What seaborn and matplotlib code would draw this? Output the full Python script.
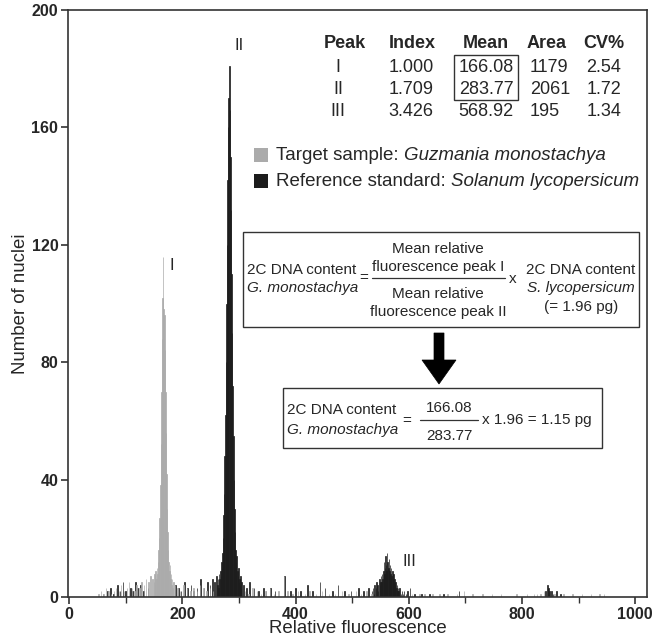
import numpy as np
import pandas as pd
import matplotlib
matplotlib.use("Agg")
import matplotlib.pyplot as plt
from matplotlib.patches import Rectangle, Polygon
from matplotlib.ticker import MultipleLocator
import seaborn as sns

# ---------------- data ----------------
# Peak I (target sample, gray): counts per channel starting at channel 150
peak1_start = 150
peak1_counts = [5, 8, 4, 9, 6, 10, 8, 12, 16, 20, 27, 38, 52, 70, 88, 102, 116, 98,
                96, 84, 70, 56, 42, 30, 22, 16, 12, 9, 11, 6, 8, 4, 6, 3, 5]
# Peak II (reference standard, black): counts per channel starting at channel 262
peak2_start = 262
peak2_counts = [4, 6, 3, 8, 6, 9, 7, 12, 10, 15, 20, 28, 35, 48, 62, 80, 100, 120,
                142, 160, 170, 181, 166, 150, 132, 110, 90, 72, 55, 40, 30, 22, 16,
                12, 14, 9, 7, 10, 5, 6, 4, 7, 3, 5]
# Peak III (reference G2, black): (channel, count)
peak3 = [(535, 2), (537, 3), (539, 1), (540, 4), (542, 3), (543, 5), (545, 4), (546, 2),
         (548, 6), (549, 4), (550, 5), (551, 7), (552, 5), (553, 8), (554, 6), (555, 9),
         (556, 12), (557, 8), (558, 10), (559, 14), (560, 11), (561, 9), (562, 15),
         (563, 12), (564, 10), (565, 13), (566, 9), (567, 11), (568, 8), (569, 10),
         (570, 7), (571, 9), (572, 6), (573, 8), (574, 5), (575, 6), (576, 4), (577, 5),
         (578, 3), (579, 4), (580, 2), (581, 3), (582, 2), (584, 3), (586, 1), (588, 2),
         (590, 1), (592, 2), (595, 1)]
# background debris (channel, count)
gray_noise = [(52, 1), (56, 2), (61, 1), (65, 3), (70, 2), (74, 1), (79, 2), (83, 3),
              (88, 2), (92, 4), (97, 2), (102, 3), (106, 5), (111, 3), (115, 2), (119, 4),
              (124, 3), (128, 5), (132, 4), (136, 6), (140, 5), (144, 7), (147, 6),
              (187, 4), (191, 3), (196, 2), (202, 4), (208, 3), (214, 2), (220, 3),
              (226, 2), (231, 4), (237, 3), (243, 2), (249, 3), (254, 2), (311, 2),
              (317, 1), (324, 3), (332, 2), (339, 1), (347, 2), (355, 3), (362, 1),
              (370, 2), (380, 7), (386, 2), (395, 1), (404, 2), (417, 1), (425, 2),
              (436, 1), (447, 2), (459, 1), (470, 1), (482, 2), (494, 1), (507, 2),
              (516, 1), (525, 2), (534, 1), (606, 1), (619, 1), (628, 1), (642, 1),
              (654, 1), (669, 1), (685, 1), (698, 2), (713, 1), (730, 1), (747, 1),
              (763, 1), (790, 1), (809, 1), (821, 1), (827, 1), (833, 1), (839, 2),
              (858, 1), (873, 1), (889, 1), (906, 1), (922, 1), (937, 1), (945, 1)]
black_noise = [(60, 1), (68, 2), (73, 3), (78, 1), (85, 4), (90, 2), (95, 5), (100, 2),
               (108, 3), (112, 2), (117, 5), (121, 3), (126, 4), (131, 2), (139, 3),
               (188, 4), (193, 3), (198, 2), (204, 5), (209, 3), (215, 4), (220, 2),
               (226, 3), (232, 6), (238, 3), (244, 5), (249, 4), (253, 6), (257, 5),
               (260, 7), (308, 4), (313, 3), (319, 5), (327, 3), (335, 2), (343, 3),
               (348, 2), (356, 3), (364, 2), (381, 7), (391, 2), (400, 3), (409, 2),
               (421, 4), (430, 2), (443, 5), (452, 3), (465, 2), (475, 4), (487, 2),
               (498, 2), (511, 3), (520, 2), (529, 3), (598, 2), (602, 3), (610, 1),
               (623, 1), (637, 1), (661, 1), (689, 2), (842, 2), (845, 4), (847, 3),
               (849, 2), (852, 2), (855, 1), (861, 2), (868, 1)]

table_header = ["Peak", "Index", "Mean", "Area", "CV%"]
table_peak = ["I", "II", "III"]
table_index = ["1.000", "1.709", "3.426"]
table_mean = ["166.08", "283.77", "568.92"]
table_area = ["1179", "2061", "195"]
table_cv = ["2.54", "1.72", "1.34"]

GRAY = "#ababab"
BLACK = "#1c1c1c"

# ---------------- build frame ----------------
rows = []
for i, c in enumerate(peak1_counts):
    rows.append((peak1_start + i, c, "target"))
for ch, c in gray_noise:
    rows.append((ch, c, "target"))
for i, c in enumerate(peak2_counts):
    rows.append((peak2_start + i, c, "reference"))
for ch, c in peak3 + black_noise:
    rows.append((ch, c, "reference"))
df = pd.DataFrame(rows, columns=["channel", "count", "sample"])

sns.set_style("ticks")
plt.rcParams["font.family"] = ["Liberation Sans", "DejaVu Sans"]

W, H = 656, 640
fig = plt.figure(figsize=(W / 100, H / 100), dpi=100)
ax = fig.add_axes([68 / W, 1 - 597 / H, (647 - 68) / W, (597 - 10) / H])


def P(x, y):
    return (x / W, 1 - y / H)


for name, col in [("reference", BLACK), ("target", GRAY)]:
    sub = df[df["sample"] == name]
    sns.histplot(data=sub, x="channel", weights="count", discrete=True,
                 color=col, alpha=1, edgecolor=col, linewidth=0.5, ax=ax)

ax.set_xlim(-2, 1021)
ax.set_ylim(0, 200)
ax.xaxis.set_major_locator(MultipleLocator(200))
ax.xaxis.set_minor_locator(MultipleLocator(100))
ax.yaxis.set_major_locator(MultipleLocator(40))
ax.tick_params(axis="both", which="major", direction="out", length=5, width=1.2,
               color="#333333", labelsize=11.5, pad=2)
ax.tick_params(axis="x", which="minor", direction="out", length=4, width=1.0, color="#333333")
for lab in ax.get_xticklabels() + ax.get_yticklabels():
    lab.set_fontweight("bold")
for s in ax.spines.values():
    s.set_visible(True)
    s.set_linewidth(1.2)
    s.set_color("#333333")
ax.set_xlabel("Relative fluorescence", fontsize=13.4, labelpad=-1)
ax.set_ylabel("Number of nuclei", fontsize=13.4, labelpad=2)

FS = 13
# peak labels
fig.text(*P(172, 266), "I", fontsize=12, ha="center", va="center")
fig.text(*P(239, 46), "II", fontsize=12, ha="center", va="center")
fig.text(*P(409, 562), "III", fontsize=12, ha="center", va="center")

# table
cols_x = [345, 412, 486, 547, 604]
for x, h in zip(cols_x, table_header):
    fig.text(*P(x, 44), h, fontsize=FS, fontweight="bold", ha="center", va="center")
row_y = [67, 89, 111]
for i, y in enumerate(row_y):
    fig.text(*P(338, y), table_peak[i], fontsize=FS, ha="center", va="center")
    fig.text(*P(411, y), table_index[i], fontsize=FS, ha="center", va="center")
    fig.text(*P(486, y), table_mean[i], fontsize=FS, ha="center", va="center")
    fig.text(*P(530, y), table_area[i], fontsize=FS, ha="left", va="center")
    fig.text(*P(604, y), table_cv[i], fontsize=FS, ha="center", va="center")


def box(x0, y0, x1, y1, lw=1.0):
    fx0, fy1 = P(x0, y0)
    fx1, fy0 = P(x1, y1)
    fig.add_artist(Rectangle((fx0, fy0), fx1 - fx0, fy1 - fy0, transform=fig.transFigure,
                             fill=False, edgecolor="#333333", linewidth=lw))


box(454, 55, 518, 100, lw=1.0)

# legend
renderer = fig.canvas.get_renderer()


def rich(x, y, parts, size):
    fx, fy = P(x, y)
    for txt, style in parts:
        t = fig.text(fx, fy, txt, fontsize=size, style=style, ha="left", va="center")
        bb = t.get_window_extent(renderer=renderer)
        fx = (bb.x1) / (W)


for y0, col, parts in [(148, GRAY, [("Target sample: ", "normal"), ("Guzmania monostachya", "italic")]),
                       (174, BLACK, [("Reference standard: ", "normal"), ("Solanum lycopersicum", "italic")])]:
    fx0, fy1 = P(254, y0)
    fx1, fy0 = P(268, y0 + 14)
    fig.add_artist(Rectangle((fx0, fy0), fx1 - fx0, fy1 - fy0, transform=fig.transFigure,
                             facecolor=col, edgecolor="none"))
    rich(276, y0 + 7, parts, 13.5)

# formula box 1
box(243, 232, 639, 327)
FF = 11
fig.text(*P(247, 270), "2C DNA content", fontsize=FF, ha="left", va="center")
fig.text(*P(247, 288), "G. monostachya", fontsize=FF, style="italic", ha="left", va="center")
fig.text(*P(364, 278), "=", fontsize=FF, ha="center", va="center")
fig.text(*P(438, 249), "Mean relative", fontsize=FF, ha="center", va="center")
fig.text(*P(438, 267), "fluorescence peak I", fontsize=FF, ha="center", va="center")
fig.add_artist(plt.Line2D([372 / W, 505 / W], [1 - 278 / H, 1 - 278 / H],
                          transform=fig.transFigure, color="#333333", linewidth=0.9))
fig.text(*P(438, 294), "Mean relative", fontsize=FF, ha="center", va="center")
fig.text(*P(438, 312), "fluorescence peak II", fontsize=FF, ha="center", va="center")
fig.text(*P(513, 279), "x", fontsize=FF, ha="center", va="center")
fig.text(*P(581, 270), "2C DNA content", fontsize=FF, ha="center", va="center")
fig.text(*P(581, 288), "S. lycopersicum", fontsize=FF, style="italic", ha="center", va="center")
fig.text(*P(581, 307), "(= 1.96 pg)", fontsize=FF, ha="center", va="center")

# arrow
pts = [(434, 333), (444, 333), (444, 360), (456, 360), (439, 384), (422, 360), (434, 360)]
fig.add_artist(Polygon([P(x, y) for x, y in pts], closed=True, transform=fig.transFigure,
                       facecolor="black", edgecolor="black", linewidth=0.5))

# formula box 2
box(283, 388, 602, 448)
fig.text(*P(287, 410), "2C DNA content", fontsize=FF, ha="left", va="center")
fig.text(*P(287, 430), "G. monostachya", fontsize=FF, style="italic", ha="left", va="center")
fig.text(*P(407, 421), "=", fontsize=FF, ha="center", va="center")
fig.text(*P(449, 408), "166.08", fontsize=FF, ha="center", va="center")
fig.add_artist(plt.Line2D([420 / W, 478 / W], [1 - 420 / H, 1 - 420 / H],
                          transform=fig.transFigure, color="#333333", linewidth=0.9))
fig.text(*P(449, 436), "283.77", fontsize=FF, ha="center", va="center")
fig.text(*P(482, 420), "x 1.96 = 1.15 pg", fontsize=FF, ha="left", va="center")

fig.savefig("out.png", dpi=100)
